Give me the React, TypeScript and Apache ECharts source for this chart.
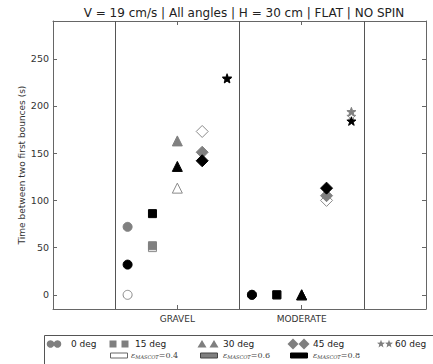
import React, { useEffect, useRef } from "react";
import * as echarts from "echarts";

const title = "V = 19 cm/s | All angles | H = 30 cm | FLAT | NO SPIN";
const yAxisName = "Time between two first bounces (s)";
const categories = ["GRAVEL", "MODERATE"];
const angleLabels = ["0 deg", "15 deg", "30 deg", "45 deg", "60 deg"];
const epsValues = ["0.4", "0.6", "0.8"];
const yTicks = [0, 50, 100, 150, 200, 250];

// values[angle] for each category, per epsilon
const eps04Gravel = [0, 50, 113, 173, 229];
const eps04Moderate = [0, 0, 0, 100, 189];
const eps06Gravel = [72, 52, 163, 151, 230];
const eps06Moderate = [0, 0, 0, 105, 194];
const eps08Gravel = [32, 86, 136, 142, 229];
const eps08Moderate = [0, 0, 0, 113, 184];

const starPath = (() => {
  const pts: string[] = [];
  for (let i = 0; i < 10; i++) {
    const r = i % 2 === 0 ? 10 : 4;
    const a = -Math.PI / 2 + (i * Math.PI) / 5;
    pts.push(`${(r * Math.cos(a)).toFixed(2)},${(r * Math.sin(a)).toFixed(2)}`);
  }
  return "path://M" + pts.join("L") + "Z";
})();

const symbols = ["circle", "rect", "triangle", "diamond", starPath];
const symbolSizes = [9, 8, 10, 12, 9];
const epsFill = ["#ffffff", "#808080", "#000000"];
const epsBorder = ["#8a8a8a", "#808080", "#000000"];

export default function App() {
  const ref = useRef<HTMLDivElement>(null);
  useEffect(() => {
    if (!ref.current) return;
    const chart = echarts.init(ref.current, null, { renderer: "svg" });
    const groups = [
      [eps04Gravel, eps04Moderate],
      [eps06Gravel, eps06Moderate],
      [eps08Gravel, eps08Moderate],
    ];
    const scatterSeries = groups.map((g, ei) => {
      const data: any[] = [];
      g.forEach((vals, ci) => {
        vals.forEach((v, ai) => {
          data.push({
            value: [ci + 1 + (ai - 2) * 0.2, v],
            symbol: symbols[ai],
            symbolSize: symbolSizes[ai],
          });
        });
      });
      return {
        type: "scatter",
        name: "eps " + epsValues[ei],
        data,
        symbolKeepAspect: true,
        itemStyle: { color: epsFill[ei], borderColor: epsBorder[ei], borderWidth: 1, opacity: 1 },
        z: 3 + ei,
      };
    });

    const legendFont = "DejaVu Sans";
    const legendGraphics: any[] = [];
    legendGraphics.push({
      type: "rect",
      shape: { x: 44.5, y: 335.5, width: 420, height: 40 },
      style: { fill: "#fff", stroke: "#555", lineWidth: 1 },
    });
    const row1 = [
      { x1: 50.5, x2: 57.5, tx: 71 },
      { x1: 113, x2: 125, tx: 135 },
      { x1: 202, x2: 214, tx: 223 },
      { x1: 293, x2: 304, tx: 313 },
      { x1: 381, x2: 389, tx: 395 },
    ];
    const ly = 344;
    row1.forEach((p, i) => {
      [p.x1, p.x2].forEach((cx) => {
        const fill = "#7f7f7f";
        if (i === 0) legendGraphics.push({ type: "circle", shape: { cx, cy: ly, r: 3.8 }, style: { fill } });
        if (i === 1) legendGraphics.push({ type: "rect", shape: { x: cx - 3.5, y: ly - 3.5, width: 7, height: 7 }, style: { fill } });
        if (i === 2)
          legendGraphics.push({
            type: "polygon",
            shape: { points: [[cx, ly - 4], [cx + 4.5, ly + 3.5], [cx - 4.5, ly + 3.5]] },
            style: { fill },
          });
        if (i === 3)
          legendGraphics.push({
            type: "polygon",
            shape: { points: [[cx, ly - 5.5], [cx + 5.5, ly], [cx, ly + 5.5], [cx - 5.5, ly]] },
            style: { fill },
          });
        if (i === 4) {
          const pts: number[][] = [];
          for (let k = 0; k < 10; k++) {
            const r = k % 2 === 0 ? 4.2 : 1.8;
            const a = -Math.PI / 2 + (k * Math.PI) / 5;
            pts.push([cx + r * Math.cos(a), ly + r * Math.sin(a)]);
          }
          legendGraphics.push({ type: "polygon", shape: { points: pts }, style: { fill } });
        }
      });
      legendGraphics.push({
        type: "text",
        x: p.tx,
        y: ly,
        style: { text: angleLabels[i], font: `9px ${legendFont}`, fill: "#222", textVerticalAlign: "middle" },
      });
    });
    const row2 = [
      { rx: 110, tx: 131 },
      { rx: 200, tx: 223 },
      { rx: 290, tx: 313 },
    ];
    const ly2 = 355.5;
    row2.forEach((p, i) => {
      legendGraphics.push({
        type: "rect",
        shape: { x: p.rx + 0.5, y: ly2 - 2.5, width: 17, height: 5 },
        style: { fill: epsFill[i], stroke: i === 0 ? "#666" : i === 1 ? "#444" : "#000", lineWidth: 1 },
      });
      legendGraphics.push({
        type: "text",
        x: p.tx,
        y: ly2,
        style: {
          text: `{e|ε}{s|MASCOT}{n|=${epsValues[i]}}`,
          textVerticalAlign: "middle",
          rich: {
            e: { font: "italic 8px 'DejaVu Serif'", fill: "#444" },
            s: { font: "italic 5px 'DejaVu Serif'", fill: "#444", padding: [3, 0, 0, 0] },
            n: { font: "8px 'DejaVu Serif'", fill: "#444" },
          },
        },
      });
    });

    const axisLineStyle = { color: "#666", width: 1 };
    const option: any = {
      animation: false,
      backgroundColor: "#fff",
      title: {
        text: title,
        left: 239,
        textAlign: "center",
        top: 2,
        textStyle: { fontFamily: "DejaVu Sans", fontSize: 12, fontWeight: "normal", color: "#222" },
      },
      grid: { left: 53, right: 7, top: 21, bottom: 55, containLabel: false },
      xAxis: [
        {
          type: "value",
          min: 0,
          max: 3,
          position: "bottom",
          axisLine: { show: true, onZero: false, lineStyle: axisLineStyle },
          axisTick: { show: true, inside: true, length: 4, customValues: [1, 2], lineStyle: axisLineStyle },
          axisLabel: {
            show: true,
            customValues: [1, 2],
            formatter: (v: number) => categories[Math.round(v) - 1] || "",
            fontFamily: "DejaVu Sans",
            fontSize: 9,
            color: "#333",
            margin: 5,
          },
          splitLine: { show: false },
        },
        {
          type: "value",
          min: 0,
          max: 3,
          position: "top",
          axisLine: { show: true, onZero: false, lineStyle: axisLineStyle },
          axisTick: { show: true, inside: true, length: 4, customValues: [1, 2], lineStyle: axisLineStyle },
          axisLabel: { show: false },
          splitLine: { show: false },
        },
      ],
      yAxis: [
        {
          type: "value",
          min: -15,
          max: 290,
          position: "left",
          name: yAxisName,
          nameLocation: "middle",
          nameGap: 27,
          nameMoveOverlap: false,
          nameTextStyle: { fontFamily: "DejaVu Sans", fontSize: 9, color: "#333" },
          axisLine: { show: true, onZero: false, lineStyle: axisLineStyle },
          axisTick: { show: true, inside: true, length: 4, customValues: yTicks, lineStyle: axisLineStyle },
          axisLabel: {
            show: true,
            customValues: yTicks,
            fontFamily: "DejaVu Sans",
            fontSize: 9.5,
            color: "#333",
            margin: 4,
          },
          splitLine: { show: false },
        },
        {
          type: "value",
          min: -15,
          max: 290,
          position: "right",
          axisLine: { show: true, onZero: false, lineStyle: axisLineStyle },
          axisTick: { show: true, inside: true, length: 4, customValues: yTicks, lineStyle: axisLineStyle },
          axisLabel: { show: false },
          splitLine: { show: false },
        },
      ],
      series: [
        {
          type: "scatter",
          data: [],
          silent: true,
          markLine: {
            silent: true,
            symbol: "none",
            label: { show: false },
            lineStyle: { color: "#555", width: 1, type: "solid" },
            data: [{ xAxis: 0.5 }, { xAxis: 1.5 }, { xAxis: 2.5 }],
          },
          z: 1,
        },
        ...scatterSeries,
      ],
      graphic: legendGraphics,
    };
    chart.setOption(option);
    return () => chart.dispose();
  }, []);
  return (
    <div
      ref={ref}
      style={{ position: "absolute", left: 0, top: 0, width: 433, height: 364, background: "#fff" }}
    />
  );
}
